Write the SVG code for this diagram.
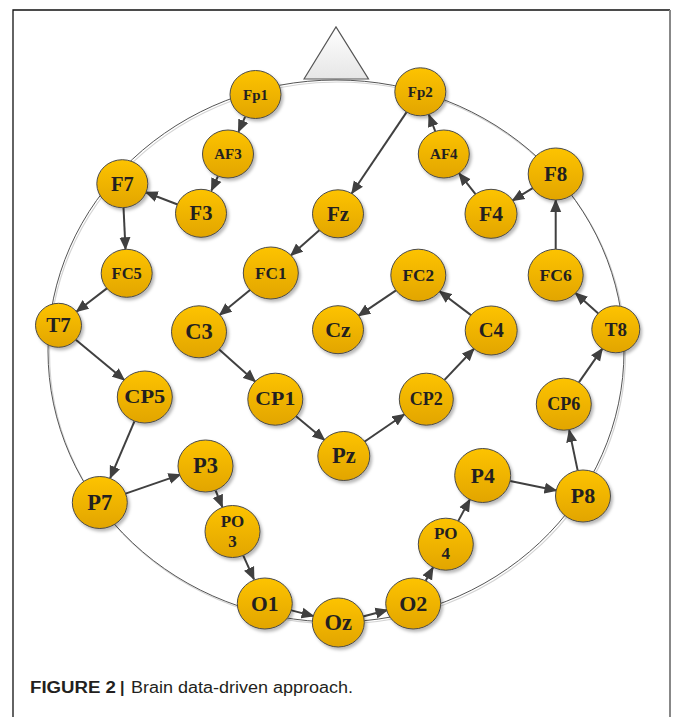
<svg xmlns="http://www.w3.org/2000/svg" width="675" height="717" viewBox="0 0 675 717">
<style>
.n{fill:url(#yg);stroke:#4a4a4a;stroke-width:1;filter:url(#sh)}
.t{font-family:"Liberation Serif","Times New Roman",serif;font-weight:bold;fill:#231f20;text-anchor:middle}
.e{stroke:#404040;stroke-width:2;fill:none;marker-end:url(#ah)}
.cap{font-family:"Liberation Sans",Arial,sans-serif;font-size:16px;fill:#231f20}
</style>
<defs>
<linearGradient id="yg" x1="0" y1="0" x2="0" y2="1">
<stop offset="0" stop-color="#FDC300"/>
<stop offset="1" stop-color="#E2A500"/>
</linearGradient>
<linearGradient id="tg" x1="0" y1="0" x2="0" y2="1">
<stop offset="0" stop-color="#ffffff"/>
<stop offset="1" stop-color="#e6e6e6"/>
</linearGradient>
<filter id="sh" x="-30%" y="-30%" width="170%" height="170%">
<feDropShadow dx="2" dy="2.5" stdDeviation="1.5" flood-color="#000" flood-opacity="0.28"/>
</filter>
<marker id="ah" markerWidth="13" markerHeight="12" refX="12" refY="6" orient="auto" markerUnits="userSpaceOnUse">
<path d="M0,0.5 L13,6 L0,11.5 z" fill="#404040"/>
</marker>
</defs>
<rect width="675" height="717" fill="#fff"/>
<g id="frame">
<path d="M13,717 V10 H670" fill="none" stroke="#111" stroke-width="1.3"/>
<path d="M670,10 V717" fill="none" stroke="#888" stroke-width="2"/>
</g>
<g id="head">
<ellipse cx="337.5" cy="353" rx="288" ry="271" fill="none" stroke="#d4d4d4" stroke-width="1.2"/>
<ellipse cx="336" cy="351" rx="288" ry="271" fill="none" stroke="#555" stroke-width="1"/>
<polygon points="304,79 336,27 368.5,79" fill="url(#tg)" stroke="#555" stroke-width="1.2"/>
</g>
<g id="connectors">
<line class="e" x1="245.1" y1="116.9" x2="238.4" y2="131.8"/>
<line class="e" x1="217.9" y1="176.3" x2="211.4" y2="190.5"/>
<line class="e" x1="177.6" y1="204.5" x2="145.7" y2="192.2"/>
<line class="e" x1="123.5" y1="207.4" x2="125.5" y2="249.3"/>
<line class="e" x1="107.2" y1="288.1" x2="76.4" y2="311.7"/>
<line class="e" x1="75.8" y1="339.7" x2="124.4" y2="380.1"/>
<line class="e" x1="134.4" y1="421.4" x2="110.2" y2="478.1"/>
<line class="e" x1="124.8" y1="493.9" x2="180.5" y2="474.6"/>
<line class="e" x1="215.6" y1="490.5" x2="222.4" y2="507"/>
<line class="e" x1="243.3" y1="555.7" x2="254" y2="579.3"/>
<line class="e" x1="290.5" y1="610.1" x2="313.6" y2="616.1"/>
<line class="e" x1="363" y1="616.5" x2="387.5" y2="610"/>
<line class="e" x1="425.7" y1="580.7" x2="433" y2="567.4"/>
<line class="e" x1="458.3" y1="520.9" x2="469.9" y2="499.3"/>
<line class="e" x1="510.1" y1="481" x2="556.5" y2="490.6"/>
<line class="e" x1="577.6" y1="470.1" x2="569.2" y2="430.1"/>
<line class="e" x1="578.9" y1="382.4" x2="602.4" y2="348.6"/>
<line class="e" x1="598.3" y1="313.6" x2="575.4" y2="292.9"/>
<line class="e" x1="555.7" y1="249.2" x2="555.7" y2="200"/>
<line class="e" x1="533.1" y1="187.9" x2="512.3" y2="200.7"/>
<line class="e" x1="475.5" y1="194.2" x2="459" y2="173.2"/>
<line class="e" x1="435.2" y1="131.1" x2="428.9" y2="114.7"/>
<line class="e" x1="406.6" y1="112.1" x2="351.7" y2="193.5"/>
<line class="e" x1="319.6" y1="230" x2="290.7" y2="255.5"/>
<line class="e" x1="250.3" y1="289.8" x2="219.5" y2="315"/>
<line class="e" x1="218.9" y1="349.3" x2="255.4" y2="381.7"/>
<line class="e" x1="295.7" y1="416.1" x2="324.6" y2="440"/>
<line class="e" x1="364.4" y1="441.8" x2="404.5" y2="414.2"/>
<line class="e" x1="444.5" y1="379.9" x2="474" y2="348.7"/>
<line class="e" x1="471.3" y1="315.4" x2="439.4" y2="291.2"/>
<line class="e" x1="396.4" y1="290.1" x2="358.3" y2="315.9"/>
</g>
<g id="Fp1"><ellipse class="n" cx="255.5" cy="94.5" rx="25.5" ry="24"/><text class="t" x="255.5" y="99.5" font-size="15">Fp1</text></g>
<g id="AF3"><ellipse class="n" cx="228" cy="154" rx="25.5" ry="24"/><text class="t" x="228" y="159" font-size="15">AF3</text></g>
<g id="F7"><ellipse class="n" cx="122.3" cy="183.7" rx="25.5" ry="24"/><text class="t" x="122.3" y="190.5" font-size="20.5">F7</text></g>
<g id="F3"><ellipse class="n" cx="201" cy="213.3" rx="25.5" ry="24"/><text class="t" x="201" y="220.2" font-size="20.5">F3</text></g>
<g id="Fp2"><ellipse class="n" cx="420.3" cy="91.8" rx="25.5" ry="24"/><text class="t" x="420.3" y="96.8" font-size="15">Fp2</text></g>
<g id="AF4"><ellipse class="n" cx="443.8" cy="154" rx="25.5" ry="24"/><text class="t" x="443.8" y="159" font-size="15">AF4</text></g>
<g id="F8"><ellipse class="n" cx="555.7" cy="174" rx="27.5" ry="26"/><text class="t" x="555.7" y="181" font-size="21">F8</text></g>
<g id="F4"><ellipse class="n" cx="491" cy="213.8" rx="26" ry="24.5"/><text class="t" x="491" y="220.9" font-size="21.5">F4</text></g>
<g id="Fz"><ellipse class="n" cx="338" cy="213.8" rx="25.5" ry="24"/><text class="t" x="338" y="220.8" font-size="21">Fz</text></g>
<g id="FC5"><ellipse class="n" cx="126.7" cy="273.3" rx="25.5" ry="24"/><text class="t" x="126.7" y="279" font-size="16.5">FC5</text></g>
<g id="FC1"><ellipse class="n" cx="270.8" cy="273" rx="27.5" ry="26"/><text class="t" x="270.8" y="278.8" font-size="17.2">FC1</text></g>
<g id="T7"><ellipse class="n" cx="58.5" cy="325.3" rx="23" ry="22"/><text class="t" x="58.5" y="332.3" font-size="21">T7</text></g>
<g id="C3"><ellipse class="n" cx="199" cy="331.8" rx="27.5" ry="26"/><text class="t" x="199" y="339" font-size="22.5">C3</text></g>
<g id="CP5"><ellipse class="n" cx="144.8" cy="397" rx="27.5" ry="26"/><text class="t" x="144.8" y="403" font-size="18.5" textLength="41" lengthAdjust="spacingAndGlyphs">CP5</text></g>
<g id="CP1"><ellipse class="n" cx="275.3" cy="399.2" rx="27.5" ry="26"/><text class="t" x="275.3" y="405.2" font-size="18.5" textLength="40" lengthAdjust="spacingAndGlyphs">CP1</text></g>
<g id="P3"><ellipse class="n" cx="205.5" cy="466" rx="27.5" ry="26"/><text class="t" x="205.5" y="473.2" font-size="22.5">P3</text></g>
<g id="FC2"><ellipse class="n" cx="418.3" cy="275.2" rx="27.5" ry="26"/><text class="t" x="418.3" y="281" font-size="17.3">FC2</text></g>
<g id="Cz"><ellipse class="n" cx="338" cy="329.7" rx="25.5" ry="24"/><text class="t" x="338" y="337" font-size="22">Cz</text></g>
<g id="C4"><ellipse class="n" cx="491.2" cy="330.5" rx="26" ry="24.5"/><text class="t" x="491.2" y="337.3" font-size="20.5">C4</text></g>
<g id="FC6"><ellipse class="n" cx="555.7" cy="275.2" rx="27.5" ry="26"/><text class="t" x="555.7" y="281" font-size="17.6">FC6</text></g>
<g id="T8"><ellipse class="n" cx="615.8" cy="329.3" rx="24" ry="23.5"/><text class="t" x="615.8" y="335.6" font-size="19">T8</text></g>
<g id="CP2"><ellipse class="n" cx="426.3" cy="399.2" rx="27" ry="26"/><text class="t" x="426.3" y="405.2" font-size="18">CP2</text></g>
<g id="CP6"><ellipse class="n" cx="563.8" cy="404.2" rx="27.5" ry="26"/><text class="t" x="563.8" y="410.2" font-size="18">CP6</text></g>
<g id="Pz"><ellipse class="n" cx="343.8" cy="456" rx="26" ry="24.5"/><text class="t" x="343.8" y="463.4" font-size="22.5">Pz</text></g>
<g id="P4"><ellipse class="n" cx="482.7" cy="475.5" rx="28" ry="27"/><text class="t" x="482.7" y="482.5" font-size="21.5">P4</text></g>
<g id="P8"><ellipse class="n" cx="583" cy="496" rx="27.5" ry="26"/><text class="t" x="583" y="503.3" font-size="22">P8</text></g>
<g id="PO4"><ellipse class="n" cx="445.8" cy="544.2" rx="27.5" ry="26"/><text class="t" x="445.8" y="539" font-size="17">PO</text><text class="t" x="445.8" y="559.3" font-size="17">4</text></g>
<g id="O2"><ellipse class="n" cx="413.2" cy="603.5" rx="27.5" ry="25.5"/><text class="t" x="413.2" y="610.8" font-size="22">O2</text></g>
<g id="P7"><ellipse class="n" cx="99.8" cy="502.5" rx="27.5" ry="26"/><text class="t" x="99.8" y="509.8" font-size="22.5">P7</text></g>
<g id="PO3"><ellipse class="n" cx="232.5" cy="531.5" rx="27.5" ry="26"/><text class="t" x="232.5" y="526.7" font-size="17">PO</text><text class="t" x="232.5" y="546.7" font-size="17">3</text></g>
<g id="O1"><ellipse class="n" cx="264.8" cy="603.5" rx="27.5" ry="25.5"/><text class="t" x="264.8" y="610.6" font-size="21.5">O1</text></g>
<g id="Oz"><ellipse class="n" cx="338.3" cy="622.5" rx="26" ry="24.5"/><text class="t" x="338.3" y="629.8" font-size="22.5">Oz</text></g>
<g id="caption">
<text class="cap" x="30" y="693" font-weight="bold" textLength="86" lengthAdjust="spacingAndGlyphs">FIGURE 2</text>
<text class="cap" x="120" y="693" font-weight="bold">|</text>
<text class="cap" x="131" y="693" fill="#333" textLength="222" lengthAdjust="spacingAndGlyphs">Brain data-driven approach.</text>
</g>
</svg>
